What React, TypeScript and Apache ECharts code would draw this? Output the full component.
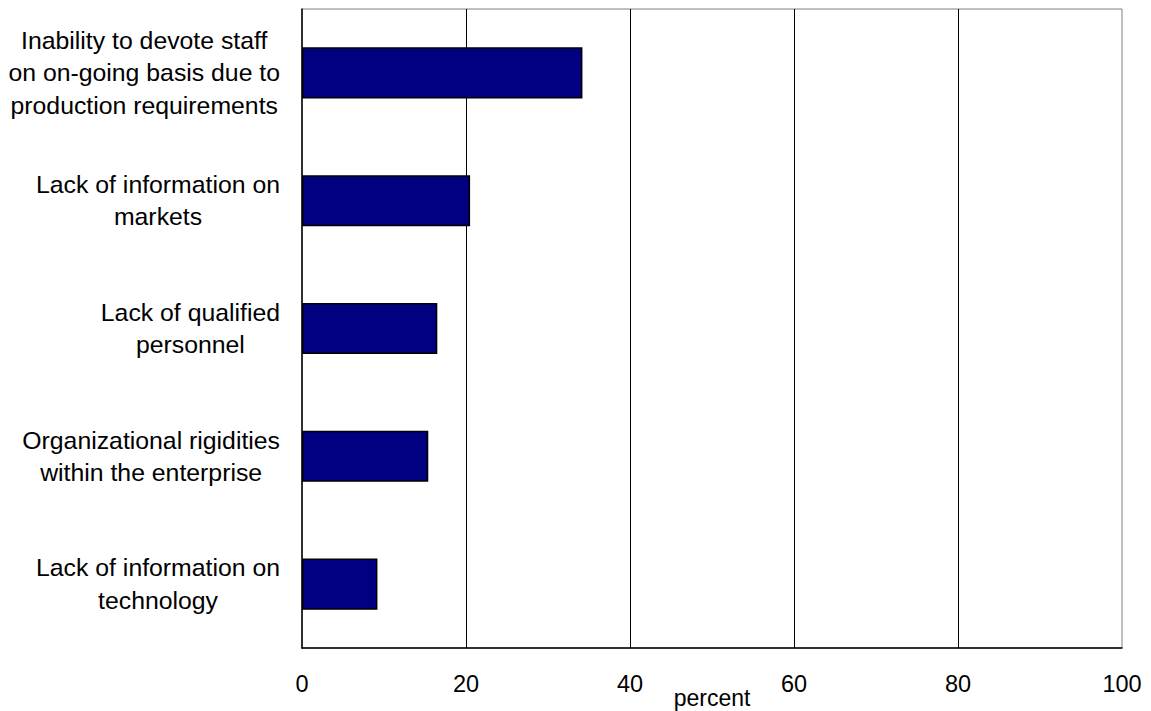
import React, { useEffect, useRef } from "react";
import * as echarts from "echarts";

const categories: string[] = [
  "Inability to devote staff\non on-going basis due to\nproduction requirements",
  "Lack of information on\nmarkets",
  "Lack of qualified\npersonnel",
  "Organizational rigidities\nwithin the enterprise",
  "Lack of information on\ntechnology",
];
const values: number[] = [34.2, 20.5, 16.5, 15.4, 9.2];
const xTicks = { min: 0, max: 100, interval: 20 };
const xName = "percent";

const FONT = "'Liberation Sans', Arial, Helvetica, sans-serif";

export default function App() {
  const ref = useRef<HTMLDivElement>(null);
  useEffect(() => {
    if (!ref.current) return;
    const chart = echarts.init(ref.current, undefined, { renderer: "svg" });
    chart.setOption({
      animation: false,
      backgroundColor: "#ffffff",
      grid: {
        left: 302,
        right: 29,
        top: 9,
        bottom: 63,
        show: true,
        borderColor: "#808080",
        borderWidth: 1,
        containLabel: false,
        outerBoundsMode: "none",
      },
      xAxis: {
        type: "value",
        min: xTicks.min,
        max: xTicks.max,
        interval: xTicks.interval,
        name: xName,
        nameLocation: "middle",
        nameGap: 39,
        nameMoveOverlap: false,
        nameTextStyle: { fontFamily: FONT, fontSize: 23, lineHeight: 22, color: "#000" },
        axisLine: { show: true, lineStyle: { color: "#000", width: 1.5 } },
        axisTick: { show: false },
        axisLabel: { fontFamily: FONT, fontSize: 23.5, color: "#000", margin: 24 },
        splitLine: {
          show: true,
          showMinLine: false,
          showMaxLine: false,
          lineStyle: { color: "#000", width: 1 },
        },
      },
      yAxis: {
        type: "category",
        data: categories,
        inverse: true,
        axisLine: { show: true, lineStyle: { color: "#000", width: 1.5 } },
        axisTick: { show: false },
        splitLine: { show: false },
        axisLabel: {
          margin: 22,
          align: "right",
          interval: 0,
          formatter: (v: string) =>
            v
              .split("\n")
              .map((l) => `{c|${l}}`)
              .join("\n"),
          rich: {
            c: {
              align: "center",
              fontFamily: FONT,
              fontSize: 24.8,
              lineHeight: 32.5,
              color: "#000",
            },
          },
        },
      },
      series: [
        {
          type: "bar",
          data: values,
          barCategoryGap: "60%",
          itemStyle: { color: "#000080", borderColor: "#000", borderWidth: 1.5 },
        },
      ],
    });
    return () => chart.dispose();
  }, []);
  return <div ref={ref} style={{ width: 1151, height: 711, position: "absolute", left: 0, top: 0 }} />;
}
